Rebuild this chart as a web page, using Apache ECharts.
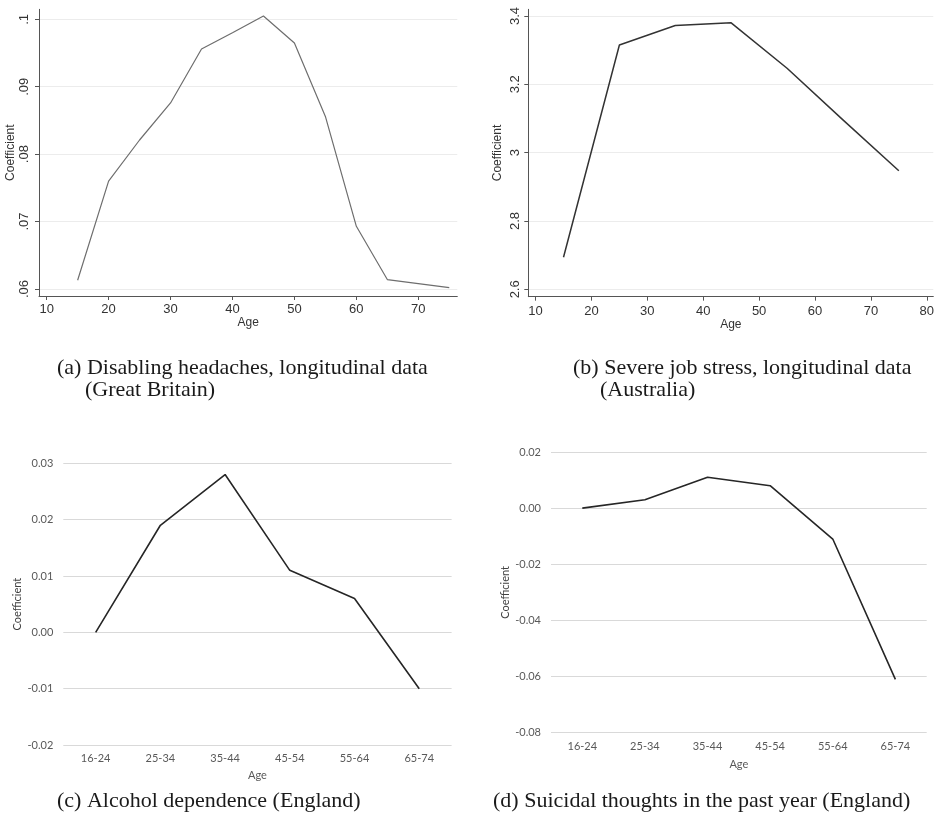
<!DOCTYPE html>
<html>
<head>
<meta charset="utf-8">
<script src="https://cdn.jsdelivr.net/npm/echarts@6/dist/echarts.min.js"></script>
<style>
html,body{margin:0;padding:0;background:#fff;}
#c{width:937px;height:818px;}
</style>
</head>
<body>
<div id="c"></div>
<script>
// ---- data ----
const ageA = [15, 20, 25, 30, 35, 40, 45, 50, 55, 60, 65, 70, 75];
const coefA = [0.0613, 0.0760, 0.0821, 0.0876, 0.0956, 0.0980, 0.1005, 0.0965, 0.0856, 0.0693, 0.0614, 0.0608, 0.0602];
const ticksAx = [10, 20, 30, 40, 50, 60, 70];
const ticksAy = [0.06, 0.07, 0.08, 0.09, 0.1];

const ageB = [15, 25, 35, 45, 55, 65, 75];
const coefB = [2.694, 3.315, 3.372, 3.380, 3.247, 3.096, 2.947];
const ticksBx = [10, 20, 30, 40, 50, 60, 70, 80];
const ticksBy = [2.6, 2.8, 3.0, 3.2, 3.4];

const catsCD = ['16-24', '25-34', '35-44', '45-54', '55-64', '65-74'];
const coefC = [0, 0.019, 0.028, 0.011, 0.006, -0.010];
const coefD = [0, 0.003, 0.011, 0.008, -0.011, -0.061];

const captions = [
  ['(a) Disabling headaches, longitudinal data', '(Great Britain)'],
  ['(b) Severe job stress, longitudinal data', '(Australia)'],
  ['(c) Alcohol dependence (England)'],
  ['(d) Suicidal thoughts in the past year (England)']
];

// ---- chart ----
const chart = echarts.init(document.getElementById('c'));
const stataFont = '"Liberation Sans", Arial, sans-serif';
const xlFont = 'Lato, "Open Sans", sans-serif';
const serif = '"Liberation Serif", "Times New Roman", serif';

function stataX(idx, min, max, ticks, margin) {
  return {
    type: 'value', gridIndex: idx, min: min, max: max,
    name: 'Age', nameLocation: 'middle', nameGap: 20,
    nameTextStyle: {fontFamily: stataFont, fontSize: 12, color: '#333'},
    axisLine: {show: true, lineStyle: {color: '#555', width: 1}},
    axisTick: {show: true, length: 4, customValues: ticks, lineStyle: {color: '#555'}},
    axisLabel: {customValues: ticks, fontFamily: stataFont, fontSize: 13, color: '#333', margin: margin},
    splitLine: {show: false}
  };
}
function stataY(idx, min, max, ticks, fmt, margin, gap) {
  return {
    type: 'value', gridIndex: idx, min: min, max: max,
    name: 'Coefficient', nameLocation: 'middle', nameGap: gap, nameRotate: 90,
    nameTextStyle: {fontFamily: stataFont, fontSize: 12, color: '#333'},
    axisLine: {show: true, lineStyle: {color: '#555', width: 1}},
    axisTick: {show: true, length: 4, customValues: ticks, lineStyle: {color: '#555'}},
    axisLabel: {customValues: ticks, rotate: 90, formatter: fmt, fontFamily: stataFont, fontSize: 13, color: '#333', margin: margin},
    splitLine: {show: true, lineStyle: {color: '#ececec', width: 1}}
  };
}
function xlX(idx, gap) {
  return {
    type: 'category', gridIndex: idx, data: catsCD, boundaryGap: true,
    name: 'Age', nameLocation: 'middle', nameGap: gap,
    nameTextStyle: {fontFamily: xlFont, fontSize: 11, color: '#595959'},
    axisLine: {show: false}, axisTick: {show: false},
    axisLabel: {fontFamily: xlFont, fontSize: 11, color: '#595959', margin: 8},
    splitLine: {show: false}
  };
}
function xlY(idx, min, max, interval, gap) {
  return {
    type: 'value', gridIndex: idx, min: min, max: max, interval: interval,
    name: 'Coefficient', nameLocation: 'middle', nameGap: gap, nameRotate: 90,
    nameTextStyle: {fontFamily: xlFont, fontSize: 11, color: '#404040'},
    axisLine: {show: false}, axisTick: {show: false},
    axisLabel: {fontFamily: xlFont, fontSize: 11, color: '#595959', margin: 10,
      formatter: v => (Math.abs(v) < 1e-9 ? 0 : v).toFixed(2)},
    splitLine: {show: true, lineStyle: {color: '#d9d9d9', width: 1}}
  };
}

const graphics = [];
const capPos = [
  [[57, 368], [85, 390]],
  [[573, 368], [600, 390]],
  [[57, 801]],
  [[493, 801]]
];
captions.forEach((lines, i) => {
  lines.forEach((t, j) => {
    graphics.push({
      type: 'text', x: capPos[i][j][0], y: capPos[i][j][1],
      style: {text: t, font: '22px ' + serif, fill: '#1a1a1a', verticalAlign: 'middle', align: 'left'}
    });
  });
});

const option = {
  backgroundColor: '#fff',
  animation: false,
  grid: [
    {left: 39, top: 9.33, width: 418.3, height: 286.67},
    {left: 528.3, top: 9.33, width: 408.7, height: 287.34},
    {left: 63.3, top: 463.3, width: 388.3, height: 281.7},
    {left: 551, top: 452, width: 375.7, height: 280.7}
  ],
  xAxis: [
    stataX(0, 8.762, 76.30, ticksAx, 7),
    stataX(1, 8.70, 81.17, ticksBx, 8),
    xlX(2, 25),
    xlX(3, 26)
  ],
  yAxis: [
    stataY(0, 0.058962, 0.101483, ticksAy, v => String(+v.toFixed(2)).replace(/^0/, ''), 8, 21),
    stataY(1, 2.5785, 3.4195, ticksBy, v => String(+v.toFixed(1)), 6, 25),
    xlY(2, -0.02, 0.03, 0.01, 40),
    xlY(3, -0.08, 0.02, 0.02, 38)
  ],
  series: [
    {type: 'line', xAxisIndex: 0, yAxisIndex: 0, data: ageA.map((a, i) => [a, coefA[i]]),
     showSymbol: false, lineStyle: {color: '#6e6e6e', width: 1.2}},
    {type: 'line', xAxisIndex: 1, yAxisIndex: 1, data: ageB.map((a, i) => [a, coefB[i]]),
     showSymbol: false, lineStyle: {color: '#333', width: 1.5}},
    {type: 'line', xAxisIndex: 2, yAxisIndex: 2, data: coefC,
     showSymbol: false, lineStyle: {color: '#262626', width: 1.6}},
    {type: 'line', xAxisIndex: 3, yAxisIndex: 3, data: coefD,
     showSymbol: false, lineStyle: {color: '#262626', width: 1.6}}
  ],
  graphic: graphics
};
chart.setOption(option);
</script>
</body>
</html>
